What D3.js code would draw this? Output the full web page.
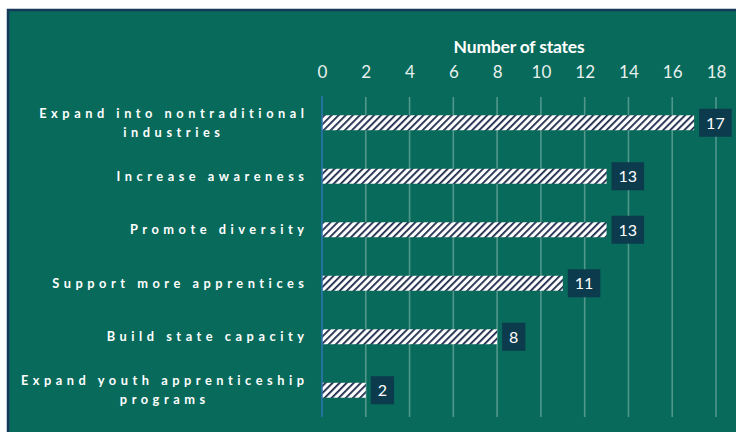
<!DOCTYPE html>
<html><head><meta charset="utf-8">
<script src="https://cdn.jsdelivr.net/npm/d3@7"></script>
<style>html,body{margin:0;padding:0;background:#fff;overflow:hidden}</style>
</head><body>
<svg id="c" width="736" height="432"></svg>
<script>
const categories = [
  ["Expand into nontraditional", "industries"],
  ["Increase awareness"],
  ["Promote diversity"],
  ["Support more apprentices"],
  ["Build state capacity"],
  ["Expand youth apprenticeship", "programs"]
];
const values = [17, 13, 13, 11, 8, 2];
const tickValues = [0, 2, 4, 6, 8, 10, 12, 14, 16, 18];
const axisTitle = "Number of states";

const svg = d3.select("#c");
const bg = "#076a5a", navy = "#0d3b4e";
const FONT = "Lato, 'Open Sans', sans-serif";

const defs = svg.append("defs");
const pat = defs.append("pattern").attr("id", "hatch").attr("patternUnits", "userSpaceOnUse")
  .attr("width", 5).attr("height", 5).attr("patternTransform", "rotate(45)");
pat.append("rect").attr("width", 5).attr("height", 5).attr("fill", "#fff");
pat.append("rect").attr("x", 0).attr("width", 1.8).attr("height", 5).attr("fill", "#1b2a4a");

svg.append("rect").attr("x", 8).attr("y", 10).attr("width", 740).attr("height", 440)
  .attr("fill", bg).attr("stroke", "#15395a").attr("stroke-width", 2.5);

const x = d3.scaleLinear().domain([0, 18]).range([322, 716]);
const y = d3.scaleBand().domain(d3.range(values.length)).range([96, 417]).paddingInner(0.72).paddingOuter(0.36);

// gridlines
svg.append("g").selectAll("line").data(tickValues.filter(d => d > 0)).join("line")
  .attr("x1", d => x(d)).attr("x2", d => x(d)).attr("y1", 97).attr("y2", 417)
  .attr("stroke", "rgba(255,255,255,0.3)").attr("stroke-width", 1.6);

// axis
const ax = svg.append("g").attr("transform", "translate(0,79)")
  .call(d3.axisTop(x).tickValues(tickValues).tickSize(0).tickPadding(0));
ax.select(".domain").remove();
ax.selectAll("text").attr("fill", "#e8f0ee").attr("font-family", FONT)
  .attr("font-size", 17).attr("dy", "-0.05em");

svg.append("text").attr("x", (x(0) + x(18)) / 2).attr("y", 53).attr("text-anchor", "middle")
  .attr("fill", "#fff").attr("font-family", FONT).attr("font-weight", "bold")
  .attr("font-size", 17.5).attr("letter-spacing", -0.2).text(axisTitle);

// bars
svg.append("g").selectAll("rect").data(values).join("rect")
  .attr("x", x(0)).attr("y", (d, i) => y(i)).attr("width", d => x(d) - x(0)).attr("height", y.bandwidth())
  .attr("fill", "url(#hatch)");

// zero line
svg.append("line").attr("x1", x(0)).attr("x2", x(0)).attr("y1", 96).attr("y2", 417)
  .attr("stroke", "#2f74b5").attr("stroke-width", 1.5);

// value labels
const lg = svg.append("g").selectAll("g").data(values).join("g");
lg.each(function(d, i) {
  const g = d3.select(this);
  const cy = y(i) + y.bandwidth() / 2;
  const t = g.append("text").attr("x", 0).attr("y", cy).attr("dy", "0.36em")
    .attr("fill", "#fff").attr("font-family", FONT).attr("font-size", 16).text(d);
  const w = t.node().getComputedTextLength();
  const bw = w + 14;
  const bx = x(d) + 5;
  g.insert("rect", "text").attr("x", bx).attr("y", cy - 14).attr("width", bw).attr("height", 28).attr("fill", navy);
  t.attr("x", bx + 7);
});

// category labels: letter spacing fitted so the longest line spans ~265px
const LFS = 12.8;
const probe = svg.append("text").attr("font-family", FONT).attr("font-weight", "bold")
  .attr("font-size", LFS).text(categories[0][0]);
const w0 = probe.node().getComputedTextLength();
probe.remove();
const ls = (265 - w0) / (categories[0][0].length - 1);

const cg = svg.append("g").selectAll("g").data(categories).join("g");
cg.each(function(lines, i) {
  const g = d3.select(this);
  const cy = y(i) + y.bandwidth() / 2;
  const texts = lines.map((s, k) => g.append("text")
    .attr("y", cy + (k - (lines.length - 1) / 2) * 19).attr("dy", "0.35em")
    .attr("fill", "#fff").attr("font-family", FONT).attr("font-weight", "bold")
    .attr("font-size", LFS).attr("letter-spacing", ls).text(s));
  const widths = texts.map(t => t.node().getComputedTextLength());
  const maxW = d3.max(widths);
  const right = 304 + ls;
  const center = right - maxW / 2;
  texts.forEach(t => t.attr("x", center).attr("text-anchor", "middle"));
});
</script>
</body></html>
